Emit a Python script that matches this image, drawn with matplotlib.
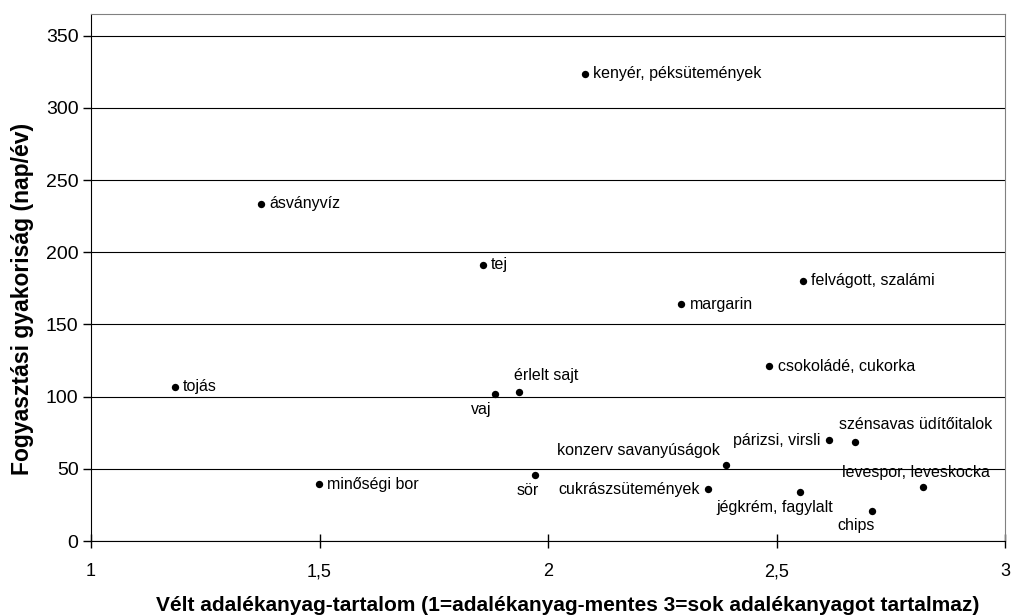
import matplotlib.pyplot as plt

plt.rcParams['font.family'] = ['Liberation Sans', 'DejaVu Sans']

# termékek, vélt adalékanyag-tartalom, fogyasztási gyakoriság
foods = ['kenyér, péksütemények', 'ásványvíz', 'tej', 'felvágott, szalámi',
         'margarin', 'csokoládé, cukorka', 'tojás', 'minőségi bor', 'vaj',
         'érlelt sajt', 'párizsi, virsli', 'szénsavas üdítőitalok',
         'konzerv savanyúságok', 'sör', 'cukrászsütemények', 'jégkrém, fagylalt',
         'levespor, leveskocka', 'chips']
additive = [2.081, 1.372, 1.857, 2.557, 2.292, 2.484, 1.183, 1.498, 1.883,
            1.937, 2.615, 2.671, 2.389, 1.971, 2.350, 2.551, 2.820, 2.708]
frequency = [323.6, 233.5, 191.3, 180.2, 164.0, 121.0, 107.0, 39.3, 102.0,
             103.5, 69.8, 68.6, 52.5, 45.7, 35.8, 34.0, 37.6, 21.0]

xticks = [1, 1.5, 2, 2.5, 3]
xticklabels = ['1', '1,5', '2', '2,5', '3']
yticks = [0, 50, 100, 150, 200, 250, 300, 350]

# label placement: offset in points and alignment
label_pos = {
    'vaj': ((-2, -6), 'right', 'top'),
    'érlelt sajt': ((-4, 6), 'left', 'bottom'),
    'párizsi, virsli': ((-6, 0), 'right', 'center'),
    'szénsavas üdítőitalok': ((-11, 7), 'left', 'bottom'),
    'konzerv savanyúságok': ((-4, 5), 'right', 'bottom'),
    'sör': ((-5, -6), 'center', 'top'),
    'cukrászsütemények': ((-6, 0), 'right', 'center'),
    'jégkrém, fagylalt': ((-18, -6), 'center', 'top'),
    'levespor, leveskocka': ((-5, 5), 'center', 'bottom'),
    'chips': ((-11, -5), 'center', 'top'),
}

fig = plt.figure(figsize=(10.11, 6.15), dpi=100)
ax = fig.add_axes([91 / 1011, 74 / 615, 914 / 1011, 527 / 615])

ax.scatter(additive, frequency, s=28, color='black', zorder=3, linewidths=0)
for name, x, y in zip(foods, additive, frequency):
    off, ha, va = label_pos.get(name, ((6, 0), 'left', 'center'))
    ax.annotate(name, (x, y), xytext=off, textcoords='offset points',
                ha=ha, va=va, fontsize=11.5)

ax.set_xlim(1, 3)
ax.set_ylim(0, 365)
ax.set_xticks(xticks)
ax.set_xticklabels(xticklabels)
ax.set_yticks(yticks)
ax.tick_params(axis='y', direction='out', length=6, width=1, labelsize=14, pad=3)
ax.tick_params(axis='x', direction='inout', length=10, width=1, labelsize=13, pad=11)
ax.grid(axis='y', color='black', linewidth=0.8)
ax.set_axisbelow(True)
for side in ['top', 'right']:
    ax.spines[side].set_color('#808080')
for side in ['left', 'bottom']:
    ax.spines[side].set_color('black')

ax.set_xlabel('Vélt adalékanyag-tartalom (1=adalékanyag-mentes 3=sok adalékanyagot tartalmaz)',
              fontsize=15, fontweight='bold')
ax.xaxis.set_label_coords(0.522, -0.122)
ax.xaxis.label.set_va('center')
ax.set_ylabel('Fogyasztási gyakoriság (nap/év)', fontsize=16.5, fontweight='bold')
ax.yaxis.set_label_coords(-0.075, 0.459)
ax.yaxis.label.set_va('center')

plt.savefig('out.png', dpi=100)
